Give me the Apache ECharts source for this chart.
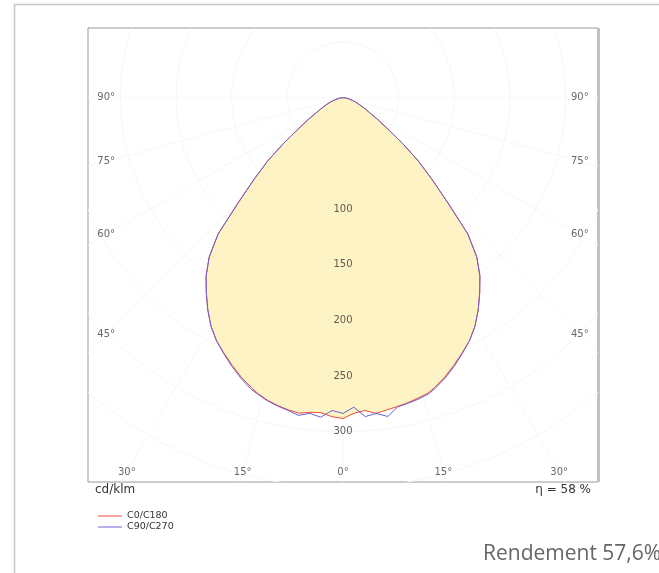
<!DOCTYPE html>
<html><head><meta charset="utf-8">
<script src="https://cdn.jsdelivr.net/npm/echarts/dist/echarts.min.js"></script>
<style>html,body{margin:0;padding:0;background:#fff}#c{width:659px;height:573px}</style>
</head><body><div id="c"></div>
<script>
// gamma angles (degrees from nadir; negative = left half C180/C270)
const angles = [-90,-87.5,-85,-82.5,-80,-77.5,-75,-72.5,-70,-67.5,-65,-62.5,-60,-57.5,-55,-52.5,-50,-47.5,-45,-42.5,-40,-37.5,-35,-32.5,-30,-27.5,-25,-22.5,-20,-17.5,
  -16,-14,-12,-10,-8,-6,-4,-2,0,2,4,6,8,10,12,14,16,
  17.5,20,22.5,25,27.5,30,32.5,35,37.5,40,42.5,45,47.5,50,52.5,55,57.5,60,62.5,65,67.5,70,72.5,75,77.5,80,82.5,85,87.5,90];
// intensities cd/klm
const c0c180 = [0,1,1.5,2.5,4,5.5,7.5,10,12.5,15.5,19,23.5,29,38,49,67,88,108,132,166,187,202,214,226,237,246,253,260,267,273,
  276.5,280,282.5,284.5,286,284,283.5,286.5,288,283.5,281.5,285,283,281.5,280,278,276,
  273,267,260,253,246,237,226,214,202,187,166,132,108,88,67,49,38,29,23.5,19,15.5,12.5,10,7.5,5.5,4,2.5,1.5,1,0];
const c90c270 = [0,1,1.5,2.5,4,5.5,7.5,10,12.5,15.5,19,23.5,29,38,49.5,67,88,108,133,166,187,202,214,226,237,246,253.5,261,268,274.5,
  277,280.5,283,285,288,285,287.5,281,283.5,278,287,285,289,282,280.5,279,277,
  274,268,261,253.5,246,237,226,214,202,187,166,133,108,88,67,49.5,38,29,23.5,19,15.5,12.5,10,7.5,5.5,4,2.5,1.5,1,0];
const seriesNames = ['C0/C180','C90/C270'];
const radialTicks = [100,150,200,250,300];
const angleTicks = [-90,-75,-60,-45,-30,-15,0,15,30,45,60,75,90];
const gridRadii = [50,100,150,200,250,300,350];
const unitLabel = 'cd/klm';
const etaLabel = 'η = 58 %';
const rendementLabel = 'Rendement 57,6%';

function toXY(g, r){ const a = g*Math.PI/180; return [r*Math.sin(a), r*Math.cos(a)]; }
const redPts = angles.map((g,i)=>toXY(g, c0c180[i]));
const bluePts = angles.map((g,i)=>toXY(g, c90c270[i]));

const LBL_W = 212.7, LBL_B = 336.2;
function labelPos(a){
  const rad=a*Math.PI/180, s=Math.sin(rad), c=Math.cos(rad);
  const tS = Math.abs(s)>1e-9 ? LBL_W/Math.abs(s) : Infinity;
  const tB = c>1e-9 ? LBL_B/c : Infinity;
  const t = Math.min(tS,tB);
  return [t*s, t*c];
}

const chart = echarts.init(document.getElementById('c'), null, {renderer:'canvas'});
const labelFont = {fontFamily:'DejaVu Sans', fontSize:10, color:'#444'};
const faint = '#f7f7f7';
chart.setOption({
  animation:false,
  backgroundColor:'#fff',
  grid:{left:88, top:28, width:510, height:454, show:true, borderColor:'#999', borderWidth:1, backgroundColor:'#fff'},
  xAxis:{type:'value', min:-229, max:229, show:false},
  yAxis:{type:'value', inverse:true, min:-62.5, max:345, show:false},
  legend:{orient:'vertical', left:93, top:506, icon:'rect', itemWidth:24, itemHeight:1, itemGap:1,
    data:seriesNames, textStyle:{fontFamily:'DejaVu Sans', fontSize:9.5, color:'#333', lineHeight:10}},
  series:[
    {type:'custom', silent:true, z:1, data:gridRadii.map(r=>[r]),
      renderItem:(params, api)=>{
        const cs=params.coordSys, c=api.coord([0,0]), r=api.size([api.value(0),0])[0];
        return {type:'group', clipPath:{type:'rect', shape:{x:cs.x,y:cs.y,width:cs.width,height:cs.height}},
          children:[{type:'circle', shape:{cx:c[0],cy:c[1],r:r}, style:{fill:'none', stroke:faint, lineWidth:1}}]};
      }},
    {type:'custom', silent:true, z:1, data:angleTicks.map(a=>[a]),
      renderItem:(params, api)=>{
        const cs=params.coordSys, c=api.coord([0,0]), e=api.coord(toXY(api.value(0),500));
        return {type:'group', clipPath:{type:'rect', shape:{x:cs.x,y:cs.y,width:cs.width,height:cs.height}},
          children:[{type:'line', shape:{x1:c[0],y1:c[1],x2:e[0],y2:e[1]}, style:{stroke:faint, lineWidth:1}}]};
      }},
    {type:'custom', silent:true, z:2, data:[[0,0]],
      renderItem:(params, api)=>({type:'polygon', shape:{points:redPts.map(p=>api.coord(p))}, style:{fill:'#fdf3c4', stroke:'none'}})},
    {name:seriesNames[0], type:'line', z:3, data:redPts, symbol:'none', lineStyle:{color:'#ee4a3a', width:1}, itemStyle:{color:'#ee4a3a'}},
    {name:seriesNames[1], type:'line', z:4, data:bluePts, symbol:'none', lineStyle:{color:'#6a62d4', width:1}, itemStyle:{color:'#6a62d4'}},
    {type:'scatter', z:5, silent:true, symbolSize:1, itemStyle:{color:'rgba(0,0,0,0)'},
      data:angleTicks.map(a=>({value:labelPos(a), name:Math.abs(a)+'°'})),
      label:Object.assign({show:true, position:'inside', formatter:p=>p.name}, labelFont)},
    {type:'scatter', z:5, silent:true, symbolSize:1, itemStyle:{color:'rgba(0,0,0,0)'},
      data:radialTicks.map(r=>({value:[0,r], name:String(r)})),
      label:Object.assign({show:true, position:'inside', formatter:p=>p.name}, labelFont, {color:'#333'})}
  ],
  graphic:[
    {type:'line', silent:true, shape:{x1:14,y1:4.5,x2:659,y2:4.5}, style:{stroke:'#c8c8c8', lineWidth:1.5}},
    {type:'line', silent:true, shape:{x1:14.5,y1:4,x2:14.5,y2:573}, style:{stroke:'#c8c8c8', lineWidth:1.5}},
    {type:'line', silent:true, shape:{x1:598.5,y1:28,x2:598.5,y2:482}, style:{stroke:'#c2c2c2', lineWidth:3}},
    {type:'text', silent:true, x:95, y:490, style:{text:unitLabel, fill:'#333', font:'12px "DejaVu Sans"', verticalAlign:'middle', align:'left'}},
    {type:'text', silent:true, x:591, y:490, style:{text:etaLabel, fill:'#333', font:'12px "DejaVu Sans"', verticalAlign:'middle', align:'right'}},
    {type:'text', silent:true, x:483, y:554, style:{text:rendementLabel, fill:'#666', font:'21px "Open Sans"', verticalAlign:'middle', align:'left'}}
  ]
});
</script></body></html>
